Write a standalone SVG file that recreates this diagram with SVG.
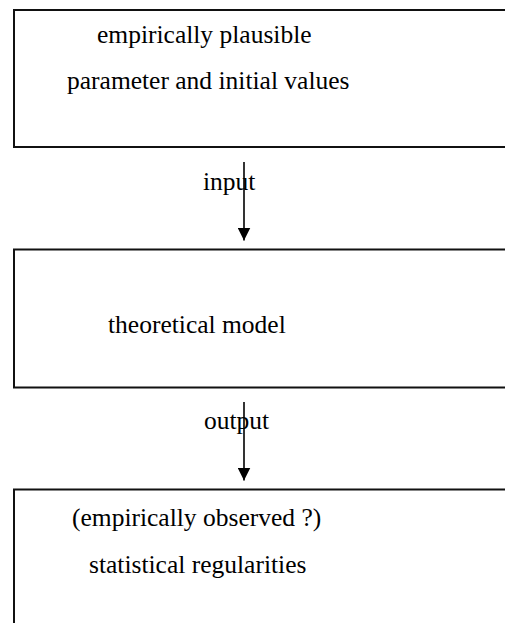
<svg xmlns="http://www.w3.org/2000/svg" width="505" height="623" viewBox="0 0 505 623">
<style>
.box{fill:none;stroke:#111;stroke-width:2}
.t{font-family:"Liberation Serif","Times New Roman",serif;font-size:25.5px;fill:#000}
.c{stroke:#000;stroke-width:1.6;fill:none}
</style>
<defs>
<marker id="ah" markerUnits="userSpaceOnUse" markerWidth="13" markerHeight="13" refX="13" refY="6.5" orient="auto" viewBox="0 0 13 13">
<path d="M0,0 L13,6.5 L0,13 Z" fill="#000"/>
</marker>
</defs>
<rect width="505" height="623" fill="#fff"/>
<g id="node-inputs">
<path class="box" d="M515,10 H14 V147 H515"/>
<text class="t" x="97" y="43">empirically plausible</text>
<text class="t" x="67" y="89">parameter and initial values</text>
</g>
<g id="node-model">
<path class="box" d="M515,249.5 H14 V387.5 H515"/>
<text class="t" x="108" y="333">theoretical model</text>
</g>
<g id="node-output">
<path class="box" d="M515,489.5 H14 V630"/>
<text class="t" x="72" y="526">(empirically observed ?)</text>
<text class="t" x="89" y="573">statistical regularities</text>
</g>
<g id="connectors">
<text class="t" x="203" y="190">input</text>
<line class="c" x1="244" y1="162" x2="244" y2="240.5" marker-end="url(#ah)"/>
<text class="t" x="204" y="429">output</text>
<line class="c" x1="244" y1="402" x2="244" y2="480.5" marker-end="url(#ah)"/>
</g>
</svg>
